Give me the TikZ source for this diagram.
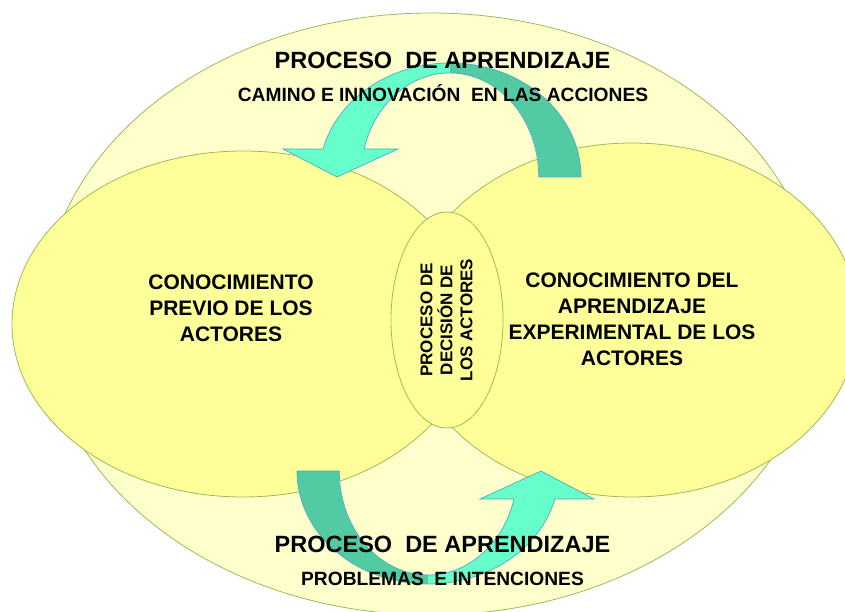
\documentclass[tikz,border=0pt]{standalone}
\usepackage{fontspec}
\setmainfont{Liberation Sans}
\definecolor{outerfill}{HTML}{FFFFCC}
\definecolor{innerfill}{HTML}{FFFF99}
\definecolor{olive}{HTML}{9BBB59}
\definecolor{aqualight}{HTML}{66FFCC}
\definecolor{aquadark}{HTML}{52CBA4}
\definecolor{arrowline}{HTML}{4BACC6}
\begin{document}
\begin{tikzpicture}[x=1pt,y=1pt,
  bubble/.style={fill=innerfill, draw=olive, line width=0.8pt},
  bigbubble/.style={fill=outerfill, draw=olive, line width=0.8pt},
  arrowedge/.style={draw=arrowline, line width=0.7pt},
  lbl/.style={text=black, inner sep=0pt, align=center},
  titletext/.style={lbl, font=\fontsize{23.5}{28}\selectfont\bfseries},
  subtext/.style={lbl, font=\fontsize{19.2}{23}\selectfont\bfseries},
  bodytext/.style={lbl, font=\fontsize{21}{26}\selectfont\bfseries},
  midtext/.style={lbl, font=\fontsize{17}{20}\selectfont\bfseries}]
\clip (0,0) rectangle (845,612);
\fill[white] (0,0) rectangle (845,612);
% outer ellipse
\draw[bigbubble] (431,298) ellipse [x radius=388, y radius=301];
% left and right ellipses
\draw[bubble] (243,288) ellipse [x radius=231, y radius=173];
\draw[bubble] (632,292) ellipse [x radius=226, y radius=177];
% middle ellipse
\draw[bubble] (447,292) ellipse [x radius=56, y radius=108];
% top curved arrow
\fill[aquadark] (581,435) arc[start angle=0, end angle=90, x radius=131, y radius=114]
  -- (450,539) arc[start angle=90, end angle=0, x radius=89, y radius=104] -- cycle;
\fill[aqualight] (450,549) arc[start angle=90, end angle=165.8, x radius=131, y radius=114]
  -- (283,463) -- (337,435) -- (398,463) -- (364,463)
  arc[start angle=164.4, end angle=90, x radius=89, y radius=104] -- cycle;
\draw[arrowedge] (581,435) arc[start angle=0, end angle=165.8, x radius=131, y radius=114]
  -- (283,463) -- (337,435) -- (398,463) -- (364,463)
  arc[start angle=164.4, end angle=0, x radius=89, y radius=104] -- cycle;
% bottom curved arrow
\fill[aquadark] (297,141) arc[start angle=180, end angle=270, x radius=131, y radius=113]
  -- (428,37) arc[start angle=270, end angle=180, x radius=89, y radius=104] -- cycle;
\fill[aqualight] (428,28) arc[start angle=270, end angle=345.7, x radius=131, y radius=113]
  -- (594,113) -- (541,141) -- (480,113) -- (514,113)
  arc[start angle=344.4, end angle=270, x radius=89, y radius=104] -- cycle;
\draw[arrowedge] (297,141) arc[start angle=180, end angle=345.7, x radius=131, y radius=113]
  -- (594,113) -- (541,141) -- (480,113) -- (514,113)
  arc[start angle=344.4, end angle=180, x radius=89, y radius=104] -- cycle;
% texts
\node[titletext, anchor=base] (toptitle) at (442.5,543) {PROCESO\ \ DE APRENDIZAJE};
\node[subtext, anchor=base] (topsub) at (443,510) {CAMINO E INNOVACIÓN\ \ EN LAS ACCIONES};
\node[titletext, anchor=base] (bottitle) at (442.5,59) {PROCESO\ \ DE APRENDIZAJE};
\node[subtext, anchor=base] (botsub) at (442.5,26) {PROBLEMAS\ \ E INTENCIONES};
\node[bodytext] (lefttext) at (231,303.5) {CONOCIMIENTO\\PREVIO DE LOS\\ACTORES};
\node[bodytext] (righttext) at (632,292.5) {CONOCIMIENTO DEL\\APRENDIZAJE\\EXPERIMENTAL DE LOS\\ACTORES};
\node[midtext, rotate=90] (midlabel) at (446.5,292) {PROCESO DE\\DECISIÓN DE\\LOS ACTORES};
\end{tikzpicture}
\end{document}
